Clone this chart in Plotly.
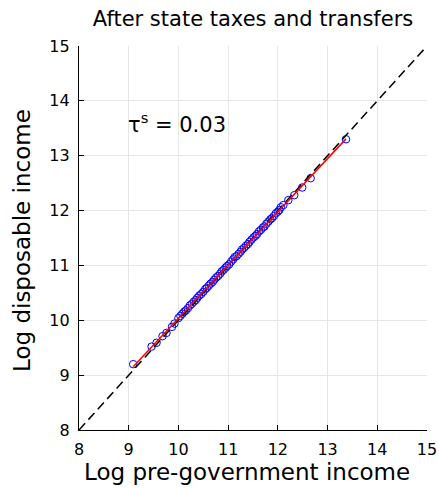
import numpy as np
import plotly.graph_objects as go

# Log pre-government income (x) and log disposable income (y)
pre_income = [9.09, 9.46, 9.56, 9.68, 9.76, 9.87, 9.92,
              10.00, 10.04, 10.08, 10.12, 10.15, 10.19, 10.23, 10.27, 10.31, 10.35,
              10.38, 10.42, 10.46, 10.50, 10.54, 10.57, 10.61, 10.65, 10.69, 10.72,
              10.76, 10.80, 10.84, 10.87, 10.91, 10.95, 10.98, 11.02, 11.06, 11.10,
              11.13, 11.17, 11.21, 11.25, 11.28, 11.32, 11.36, 11.40, 11.43, 11.47,
              11.51, 11.55, 11.58, 11.62, 11.66, 11.70, 11.73, 11.77, 11.81, 11.85,
              11.88, 11.92, 11.96, 12.00, 12.03, 12.06, 12.11, 12.21, 12.33, 12.49,
              12.66, 13.37]
disp_income = [9.20, 9.52, 9.59, 9.71, 9.77, 9.88, 9.94,
               10.04, 10.08, 10.12, 10.16, 10.18, 10.22, 10.27, 10.30, 10.34, 10.37,
               10.41, 10.45, 10.48, 10.52, 10.57, 10.59, 10.63, 10.67, 10.70, 10.74,
               10.78, 10.81, 10.85, 10.89, 10.92, 10.96, 10.99, 11.02, 11.07, 11.11,
               11.15, 11.17, 11.21, 11.25, 11.29, 11.32, 11.36, 11.39, 11.43, 11.47,
               11.51, 11.54, 11.57, 11.62, 11.65, 11.69, 11.71, 11.76, 11.80, 11.84,
               11.86, 11.90, 11.95, 11.98, 12.01, 12.06, 12.10, 12.19, 12.28, 12.42,
               12.59, 13.30]
diag = [8, 15]
ticks = [8, 9, 10, 11, 12, 13, 14, 15]

x = np.array(pre_income)
y = np.array(disp_income)
b, a = np.polyfit(x, y, 1)
fx = np.array([x.min(), x.max()])
fy = a + b * fx

W, H = 439, 488
L, R, T, B = 79, 12, 46, 58
pw, ph = W - L - R, H - T - B

fig = go.Figure()
fig.add_trace(go.Scatter(x=x, y=y, mode="markers",
                         marker=dict(symbol="circle-open", size=7.5, color="blue",
                                     line=dict(width=1, color="blue")),
                         showlegend=False))
fig.add_trace(go.Scatter(x=diag, y=diag, mode="lines",
                         line=dict(color="black", width=1.5, dash="9px,5px"),
                         showlegend=False))
fig.add_trace(go.Scatter(x=fx, y=fy, mode="lines",
                         line=dict(color="red", width=1.5), showlegend=False))

axis_common = dict(range=[8, 15], tickvals=ticks, ticktext=[str(t) for t in ticks],
                   showgrid=True, gridcolor="#e6e6e6", gridwidth=1,
                   showline=True, linecolor="black", linewidth=1.2,
                   ticks="inside", ticklen=5, tickcolor="black", tickwidth=1.2,
                   zeroline=False, automargin=False,
                   tickfont=dict(size=16, color="black"))

fig.update_layout(
    width=W, height=H,
    margin=dict(l=L, r=R, t=T, b=B),
    paper_bgcolor="white", plot_bgcolor="white",
    font=dict(family="DejaVu Sans", color="black"),
    title=dict(text="After state taxes and transfers", x=(L + W - R) / 2 / W,
               xanchor="center", y=1 - 19 / H, yanchor="middle",
               font=dict(size=21)),
    xaxis=dict(**axis_common, ticklabelstandoff=5),
    yaxis=dict(**axis_common, ticklabelstandoff=5),
    annotations=[
        dict(x=9.97, y=13.6, xref="x", yref="y", showarrow=False,
             text="τ<sup>s</sup> = 0.03", font=dict(size=21)),
        dict(x=((L + W - R) / 2 - 6 - L) / pw, y=(H - B - 472) / ph,
             xref="paper", yref="paper",
             xanchor="center", yanchor="middle", showarrow=False,
             text="Log pre-government income", font=dict(size=23)),
        dict(x=(22 - L) / pw, y=(H - B - 241) / ph, xref="paper", yref="paper",
             xanchor="center", yanchor="middle", showarrow=False, textangle=-90,
             text="Log disposable income", font=dict(size=23)),
    ],
)

fig.write_html("out.html", config={"displayModeBar": False},
               post_script="document.body.style.margin='0';")
